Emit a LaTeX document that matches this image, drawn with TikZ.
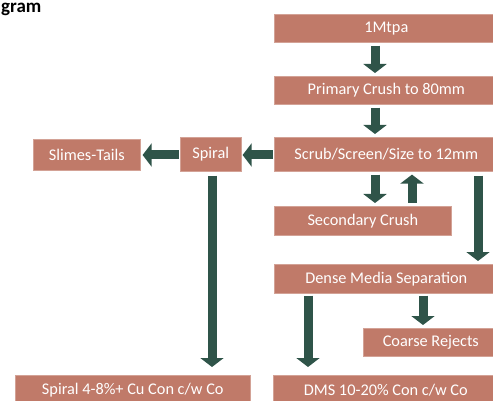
\documentclass[tikz,border=0pt]{standalone}
\usepackage{fontspec}
\setmainfont{Carlito}
\usetikzlibrary{arrows.meta,positioning}
\definecolor{boxfill}{HTML}{C07A69}
\definecolor{flowgreen}{HTML}{2F5449}
\tikzset{
  stage/.style={fill=boxfill,draw=boxfill!70!white,line width=0.6pt,text=white,
    font=\fontsize{16.3}{18}\selectfont,anchor=north west,inner sep=0pt,
    minimum height=28pt},
  flow/.style={draw=flowgreen,line width=9pt,
    -{Triangle[width=23pt,length=9pt]}},
}
\begin{document}
\begin{tikzpicture}[x=1pt,y=-1pt]
    \useasboundingbox (0,0) rectangle (493,401);
    \clip (0,0) rectangle (493,401);
    \node[anchor=base west,font=\bfseries\fontsize{19}{21}\selectfont,inner sep=0pt] (title) at (1,12.5) {gram};
    % main column
    \node[stage,minimum width=224pt] (mtpa) at (274,14) {1Mtpa};
    \node[stage,minimum width=224pt] (primary) at (274,76) {Primary Crush to 80mm};
    \node[stage,minimum width=224pt,minimum height=34pt] (scrub) at (274,137) {Scrub/Screen/Size to 12mm};
    \node[stage,minimum width=177pt,minimum height=29pt] (secondary) at (274,206) {Secondary Crush};
    \node[stage,minimum width=224pt,minimum height=29pt] (dms) at (274,264) {Dense Media Separation};
    \node[stage,minimum width=135pt] (rejects) at (363,328) {Coarse Rejects};
    \node[stage,minimum width=225pt,minimum height=30pt] (dmscon) at (273,375) {DMS 10-20\% Con c/w Co};
    % spiral branch
    \node[stage,minimum width=61pt,minimum height=34pt] (spiral) at (180,137) {Spiral};
    \node[stage,minimum width=107pt,minimum height=31pt] (slimes) at (33,139) {Slimes-Tails};
    \node[stage,minimum width=235pt,minimum height=30pt] (spiralcon) at (15,375) {Spiral 4-8\%+ Cu Con c/w Co};
    % flows
    \draw[flow] ([yshift=-3pt]mtpa.south -| 375,0) -- ([yshift=3pt]primary.north -| 375,0);
    \draw[flow] ([yshift=-3pt]primary.south -| 375,0) -- ([yshift=3pt]scrub.north -| 375,0);
    \draw[flow] ([xshift=-1pt]scrub.west |- 0,155) -- ([xshift=1pt]spiral.east |- 0,155);
    \draw[flow] ([xshift=-1pt]spiral.west |- 0,155) -- ([xshift=2pt]slimes.east |- 0,155);
    \draw[flow] ([yshift=-3pt]scrub.south -| 375,0) -- ([yshift=3pt]secondary.north -| 375,0);
    \draw[flow] ([yshift=3pt]secondary.north -| 412,0) -- ([yshift=-3pt]scrub.south -| 412,0);
    \draw[flow] ([yshift=-4pt]scrub.south -| 478,0) -- ([yshift=3pt]dms.north -| 478,0);
    \draw[flow] ([yshift=-4pt]spiral.south -| 212,0) -- ([yshift=8pt]spiralcon.north -| 212,0);
    \draw[flow] ([yshift=-2pt]dms.south -| 308,0) -- ([yshift=8pt]dmscon.north -| 308,0);
    \draw[flow] ([yshift=-2pt]dms.south -| 423,0) -- ([yshift=3pt]rejects.north -| 423,0);
\end{tikzpicture}
\end{document}
